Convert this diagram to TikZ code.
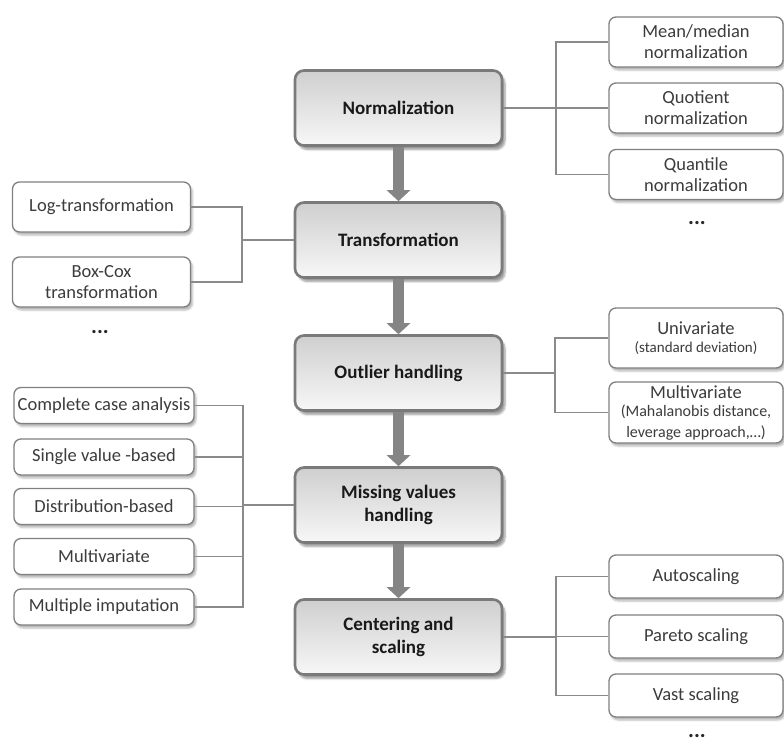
\documentclass[tikz,border=0pt]{standalone}
\usepackage{fontspec}
\setmainfont{Carlito}
\usetikzlibrary{arrows.meta,shadows.blur}

\definecolor{stepline}{HTML}{7A7A7A}
\definecolor{steptop}{HTML}{CFCFCF}
\definecolor{stepbot}{HTML}{F7F7F7}
\definecolor{optline}{HTML}{808080}
\definecolor{opttext}{HTML}{3C3C3C}
\definecolor{linkgray}{HTML}{8A8A8A}
\definecolor{flowgray}{HTML}{858585}

\tikzset{
  stepbox/.style={draw=stepline, line width=2.6pt, rounded corners=9pt,
    top color=steptop, bottom color=stepbot,
    minimum width=207pt, minimum height=75pt, align=center, text=black!90,
    font=\fontsize{19}{23}\selectfont\bfseries,
    blur shadow={shadow xshift=3pt, shadow yshift=-4pt, shadow blur steps=6, shadow opacity=40}},
  optbox/.style={draw=optline, line width=1.3pt, rounded corners=7pt, fill=white,
    minimum width=178pt, minimum height=50pt, align=center, text=opttext, inner sep=2pt,
    font=\fontsize{18.5}{21}\selectfont,
    blur shadow={shadow xshift=2pt, shadow yshift=-3pt, shadow blur steps=4, shadow opacity=30}},
  link/.style={draw=linkgray, line width=1.8pt},
  flow/.style={draw=flowgray, line width=11.5pt, -{Triangle[width=23pt,length=11pt]}},
  more/.style={text=black!85, font=\fontsize{22}{22}\selectfont\bfseries}
}

\begin{document}
\begin{tikzpicture}[x=1pt,y=-1pt]
\useasboundingbox (0,0) rectangle (784,744);

% processing steps
\node[stepbox] (norm) at (398.5,108) {Normalization};
\node[stepbox] (trans) at (398.5,240) {Transformation};
\node[stepbox] (outl) at (398.5,373) {Outlier handling};
\node[stepbox] (miss) at (398.5,505) {Missing values\\handling};
\node[stepbox] (cent) at (398.5,637) {Centering and\\scaling};

\draw[flow] (norm.south) -- (trans.north);
\draw[flow] (trans.south) -- (outl.north);
\draw[flow] (outl.south) -- (miss.north);
\draw[flow] (miss.south) -- (cent.north);

% normalization
\node[optbox, minimum width=174pt] (mean) at (696,42) {Mean/median\\normalization};
\node[optbox, minimum width=174pt] (quot) at (696,108) {Quotient\\normalization};
\node[optbox, minimum width=174pt] (quan) at (696,174.5) {Quantile\\normalization};
\node[more] (normmore) at (697,223) {...};
\coordinate (nj) at (556,108);
\draw[link] (norm.east) -- (nj);
\foreach \b in {mean,quot,quan}
  \draw[link] (nj) |- (\b.west);

% transformation
\node[optbox] (logt) at (101.5,207) {Log-transformation};
\node[optbox] (boxcox) at (101.5,282) {Box-Cox\\transformation};
\node[more] (transmore) at (100,332) {...};
\coordinate (tj) at (242,240);
\draw[link] (trans.west) -- (tj);
\foreach \b in {logt,boxcox}
  \draw[link] (tj) |- (\b.east);

% outliers
\node[optbox, minimum width=174pt, minimum height=60pt] (univ) at (696,338)
  {Univariate\\[-3pt]{\fontsize{15}{17}\selectfont (standard deviation)}};
\node[optbox, minimum width=174pt, minimum height=61pt] (multo) at (696,412.5)
  {Multivariate\\[-3pt]{\fontsize{16}{18}\selectfont (Mahalanobis distance,}\\{\fontsize{16}{18}\selectfont leverage approach,…)}};
\coordinate (oj) at (555,373);
\draw[link] (outl.east) -- (oj);
\foreach \b in {univ,multo}
  \draw[link] (oj) |- (\b.west);

% missing values
\node[optbox, minimum width=180pt, minimum height=36pt] (cca) at (104,405.5) {Complete case analysis};
\node[optbox, minimum width=180pt, minimum height=36pt] (single) at (104,457) {Single value -based};
\node[optbox, minimum width=180pt, minimum height=36pt] (distr) at (104,506.5) {Distribution-based};
\node[optbox, minimum width=180pt, minimum height=36pt] (multm) at (104,556.5) {Multivariate};
\node[optbox, minimum width=180pt, minimum height=36pt] (mult) at (104,607) {Multiple imputation};
\coordinate (mj) at (243,505);
\draw[link] (miss.west) -- (mj);
\foreach \b in {cca,single,distr,multm,mult}
  \draw[link] (mj) |- (\b.east);

% scaling
\node[optbox, minimum width=174pt, minimum height=43pt] (auto) at (696,576.5) {Autoscaling};
\node[optbox, minimum width=174pt, minimum height=43pt] (pareto) at (696,636.5) {Pareto scaling};
\node[optbox, minimum width=174pt, minimum height=43pt] (vast) at (696,695.5) {Vast scaling};
\node[more] (centmore) at (697,736) {...};
\coordinate (cj) at (556,637);
\draw[link] (cent.east) -- (cj);
\foreach \b in {auto,pareto,vast}
  \draw[link] (cj) |- (\b.west);
\end{tikzpicture}
\end{document}
